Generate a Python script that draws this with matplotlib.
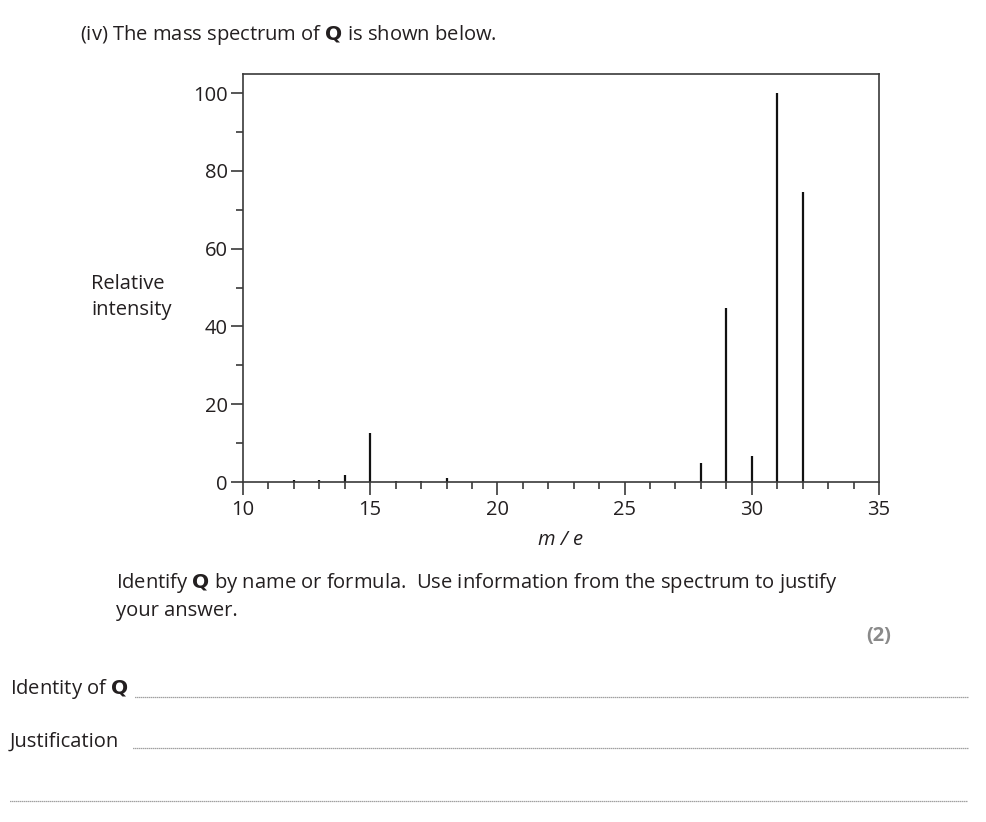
import matplotlib
matplotlib.use("Agg")
import matplotlib.pyplot as plt
from matplotlib.ticker import MultipleLocator
import numpy as np

plt.rcParams['font.family'] = ['Open Sans', 'DejaVu Sans']

# mass spectrum of Q
mz = [12, 13, 14, 15, 16, 17, 18, 28, 29, 30, 31, 32]
intensity = [0.5, 0.6, 1.8, 12.6, 0.3, 0.3, 1.0, 4.8, 44.7, 6.8, 100, 74.5]

xticks = [10, 15, 20, 25, 30, 35]
yticks = [0, 20, 40, 60, 80, 100]

txt = '#231f20'
axc = '#3a3a3a'
fs = 14.5

fig = plt.figure(figsize=(9.86, 8.22), dpi=100)
ax = fig.add_axes([243/986, 1 - 482/822, (879-243)/986, (482-74)/822])

ax.vlines(mz, 0, intensity, color='#111111', linewidth=1.6)
ax.set_xlim(10, 35)
ax.set_ylim(0, 104.9)

ax.set_xticks(xticks)
ax.set_yticks(yticks)
ax.xaxis.set_minor_locator(MultipleLocator(1))
ax.yaxis.set_minor_locator(MultipleLocator(10))
ax.tick_params(which='major', length=9, width=1.2, color=axc, labelsize=14.5,
               labelcolor=txt, pad=2)
ax.tick_params(axis='x', which='major', pad=4)
ax.tick_params(which='minor', length=5, width=1.2, color=axc)
ax.tick_params(axis='x', which='both', direction='out')
for s in ax.spines.values():
    s.set_color(axc)
    s.set_linewidth(1.2)

ax.set_xlabel('m / e', fontsize=fs, style='italic', color=txt, labelpad=7)

fig.text(80/986, 1 - 35/822, '(iv) The mass spectrum of $\\mathbf{Q}$ is shown below.',
         fontsize=fs, color=txt, va='center')
fig.text(91/986, 1 - 297/822, 'Relative\nintensity', fontsize=fs, color=txt,
         va='center', ha='left', multialignment='left', linespacing=1.42)
fig.text(116/986, 1 - 596/822,
         'Identify $\\mathbf{Q}$ by name or formula.  Use information from the spectrum to justify\nyour answer.',
         fontsize=fs, color=txt, va='center', linespacing=1.42)
fig.text(891/986, 1 - 636/822, '(2)', fontsize=fs, color='#8a8a8a',
         fontweight='bold', va='center', ha='right')

fig.text(10/986, 1 - 689/822, 'Identity of $\\mathbf{Q}$', fontsize=fs, color=txt, va='center')
fig.text(10/986, 1 - 742/822, 'Justification', fontsize=fs, color=txt, va='center')

for x0, y in [(135, 697), (133, 748), (10, 801)]:
    fig.add_artist(plt.Line2D([x0/986, 968/986], [1 - y/822, 1 - y/822],
                              color='#444444', linewidth=0.9, linestyle=(0, (0.6, 1.0))))

fig.savefig('out.png', dpi=100, facecolor='white')
